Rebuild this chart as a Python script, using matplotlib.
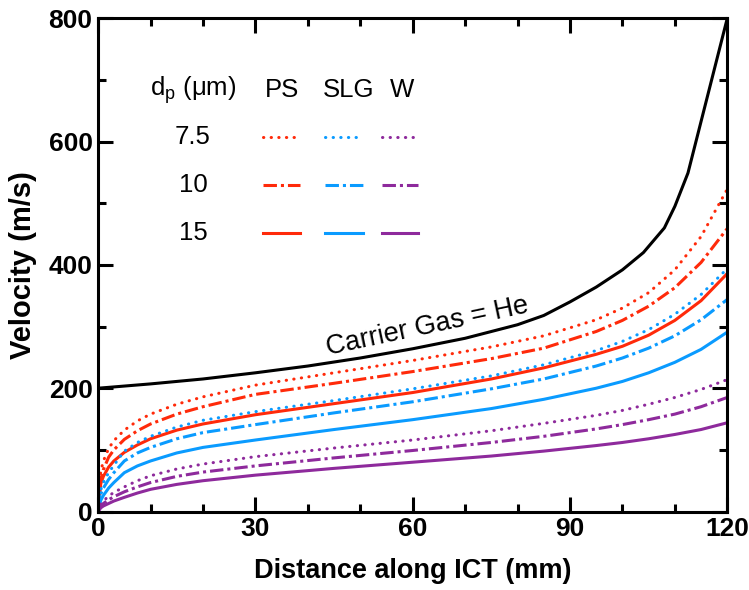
import matplotlib.pyplot as plt

plt.rcParams['font.family'] = ['Liberation Sans', 'DejaVu Sans']

# distance along ICT (mm)
x = [0, 0.5, 1, 2, 3, 5, 7.5, 10, 15, 20, 30, 45, 60, 75, 85, 95, 100, 105, 110, 115, 120]

# carrier gas (He)
gas_x = [0, 10, 20, 30, 40, 50, 60, 70, 80, 85, 90, 95, 100, 104, 108, 110, 112.5, 120]
gas_v = [200, 207, 215, 225, 236, 249, 264, 281, 303, 318, 340, 364, 392, 420, 460, 495, 549, 800]

# particle velocities (m/s), dp = 7.5 / 10 / 15 um
ps_75 = [0, 65, 82, 102, 115, 132, 147, 158, 174, 186, 205, 225, 245, 267, 285, 311, 330, 355, 392, 446, 523]
ps_10 = [0, 52, 68, 88, 100, 117, 131, 142, 158, 170, 190, 208, 227, 248, 265, 292, 310, 333, 363, 404, 459]
ps_15 = [0, 45, 57, 72, 82, 96, 108, 118, 132, 142, 157, 175, 193, 215, 233, 255, 268, 286, 310, 342, 386]
slg_75 = [0, 35, 47, 63, 75, 98, 112, 122, 137, 148, 162, 180, 199, 220, 238, 261, 276, 295, 320, 352, 394]
slg_10 = [0, 28, 38, 52, 63, 82, 95, 104, 118, 128, 141, 160, 178, 199, 215, 236, 249, 265, 285, 311, 344]
slg_15 = [0, 18, 26, 38, 47, 63, 74, 82, 95, 104, 116, 133, 149, 167, 182, 200, 211, 225, 242, 263, 291]
w_75 = [0, 12, 17, 25, 31, 40, 50, 58, 69, 77, 89, 103, 116, 131, 143, 156, 164, 174, 185, 198, 214]
w_10 = [0, 9, 13, 19, 24, 32, 40, 47, 57, 64, 74, 87, 99, 112, 122, 134, 141, 149, 158, 170, 185]
w_15 = [0, 6, 9, 13, 17, 23, 30, 36, 44, 50, 59, 70, 80, 90, 98, 107, 112, 118, 125, 133, 144]

red = '#ff2a0a'
blue = '#0a9bff'
purple = '#8e2a9c'
lw = 2.2
dot = dict(ls=(0, (0.1, 2.4)), dash_capstyle='round')
dashdot = dict(ls=(0, (4.4, 1.3, 1.0, 1.3)))
solid = dict(ls='-')

fig = plt.figure(figsize=(7.49, 5.90), dpi=100)
ax = fig.add_axes([0.131, 0.133, 0.840, 0.836])

ax.plot(gas_x, gas_v, color='black', lw=lw)
ax.plot(x, ps_75, color=red, lw=lw, **dot)
ax.plot(x, ps_10, color=red, lw=lw, **dashdot)
ax.plot(x, ps_15, color=red, lw=lw)
ax.plot(x, slg_75, color=blue, lw=lw, **dot)
ax.plot(x, slg_10, color=blue, lw=lw, **dashdot)
ax.plot(x, slg_15, color=blue, lw=lw)
ax.plot(x, w_75, color=purple, lw=lw, **dot)
ax.plot(x, w_10, color=purple, lw=lw, **dashdot)
ax.plot(x, w_15, color=purple, lw=lw)

ax.set_xlim(0, 120)
ax.set_ylim(0, 800)
ax.set_xticks(range(0, 121, 30))
ax.set_xticks(range(0, 121, 10), minor=True)
ax.set_yticks(range(0, 801, 200))
ax.set_yticks(range(0, 801, 100), minor=True)
for s in ax.spines.values():
    s.set_linewidth(2.2)
ax.tick_params(which='major', direction='in', length=10.5, width=2.2, top=True, right=True,
               labelsize=19, pad=4)
ax.tick_params(which='minor', direction='in', length=5.5, width=2.2, top=True, right=True)
for lab in ax.get_xticklabels() + ax.get_yticklabels():
    lab.set_fontweight('bold')

ax.set_xlabel('Distance along ICT (mm)', fontsize=19.5, fontweight='bold', labelpad=12)
ax.set_ylabel('Velocity (m/s)', fontsize=21, fontweight='bold', labelpad=8)

ax.text(62.8, 300, 'Carrier Gas = He', fontsize=19.5, rotation=12, ha='center', va='center')

# legend table
ax.text(18.1, 683, r'd$_\mathregular{p}$ ($\mathregular{\mu}$m)', fontsize=18.5, ha='center', va='center')
ax.text(35.1, 683, 'PS', fontsize=18.5, ha='center', va='center')
ax.text(47.7, 683, 'SLG', fontsize=18.5, ha='center', va='center')
ax.text(58.0, 683, 'W', fontsize=18.5, ha='center', va='center')
rows = [(607, '7.5', dot), (529, '10', dashdot), (451, '15', solid)]
cols = [(31.5, 38.5, red), (43.3, 50.6, blue), (54.2, 61.0, purple)]
for yv, lab, style in rows:
    ax.text(18.1, yv, lab, fontsize=18.5, ha='center', va='center')
    for x0, x1, c in cols:
        ax.plot([x0, x1], [yv, yv], color=c, lw=lw, **style)

fig.savefig('out.png', dpi=100)
